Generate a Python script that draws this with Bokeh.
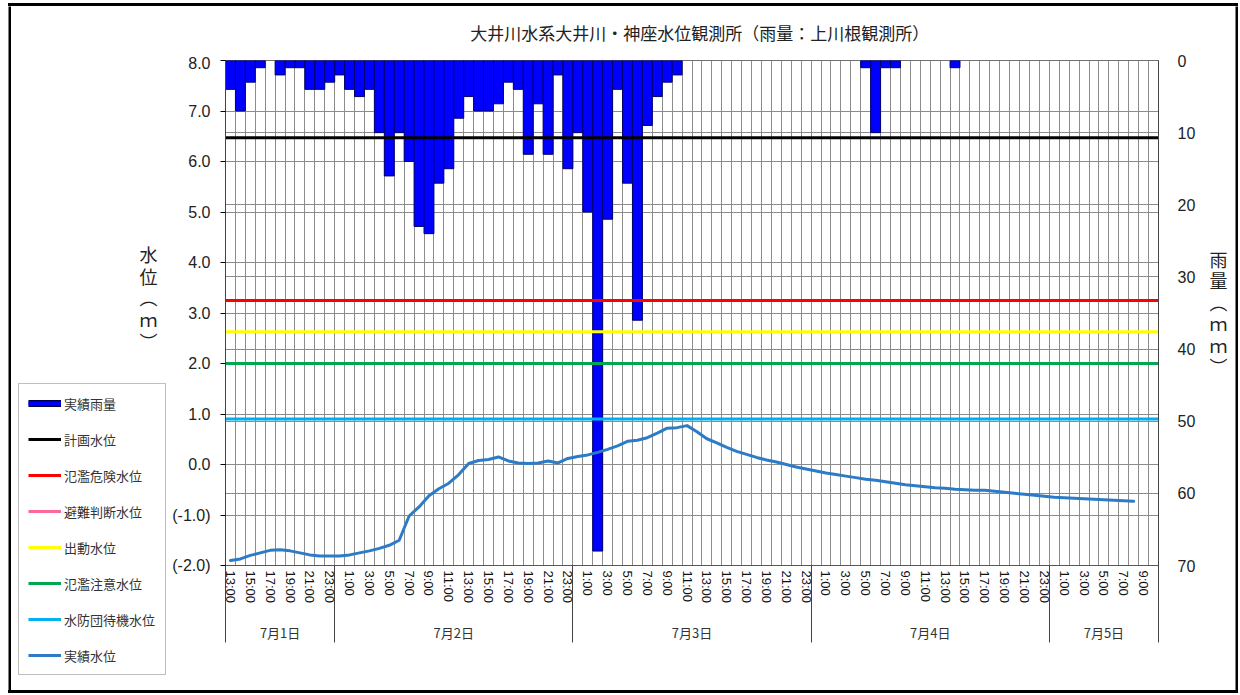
from bokeh.plotting import figure
from bokeh.layouts import row, column
from bokeh.models import (Range1d, LinearAxis, FixedTicker, Grid, Legend, LegendItem,
                          ColumnDataSource, Label, PrintfTickFormatter, Spacer)
from bokeh.embed import file_html
from bokeh.resources import INLINE

# ---------------- data ----------------
TITLE = "大井川水系大井川・神座水位観測所（雨量：上川根観測所）"
Y_LEFT_LABEL = "水位（m）"
Y_RIGHT_LABEL = "雨量（mm）"

day_labels = ["7月1日", "7月2日", "7月3日", "7月4日", "7月5日"]
day_hours = [list(range(13, 24)), list(range(0, 24)), list(range(0, 24)),
             list(range(0, 24)), list(range(0, 11))]

# hourly rainfall (mm), from 7/1 13:00
rain_mm = [4, 7, 3, 1, 0, 2, 1, 1, 4, 4, 3,                                   # 7/1
           2, 4, 5, 4, 10, 16, 10, 14, 23, 24, 17, 15, 8, 5, 7, 7, 6, 3, 4, 13, 6, 13, 2, 15,  # 7/2
           10, 21, 68, 22, 4, 17, 36, 9, 5, 3, 2, 0, 0, 0, 0, 0, 0, 0, 0, 0, 0, 0, 0, 0,      # 7/3
           0, 0, 0, 0, 0, 1, 10, 1, 1, 0, 0, 0, 0, 0, 1, 0, 0, 0, 0, 0, 0, 0, 0, 0,          # 7/4
           0, 0, 0, 0, 0, 0, 0, 0, 0, 0, 0]                                    # 7/5

# hourly observed water level (m), from 7/1 13:00
water_level_m = [-1.90, -1.87, -1.80, -1.75, -1.70, -1.69, -1.71, -1.75, -1.79, -1.81, -1.81,
                 -1.81, -1.79, -1.75, -1.71, -1.66, -1.60, -1.50, -1.02, -0.84, -0.62, -0.48, -0.37,
                 -0.20, 0.02, 0.08, 0.10, 0.15, 0.07, 0.03, 0.02, 0.03, 0.07, 0.03, 0.12,
                 0.16, 0.19, 0.24, 0.30, 0.37, 0.46, 0.48, 0.53, 0.62, 0.72, 0.73, 0.77,
                 0.65, 0.51, 0.43, 0.34, 0.26, 0.20, 0.14, 0.09, 0.05, 0.00, -0.05, -0.09,
                 -0.13, -0.17, -0.20, -0.23, -0.26, -0.29, -0.31, -0.34, -0.37, -0.40, -0.42, -0.44,
                 -0.46, -0.47, -0.49, -0.50, -0.51, -0.51, -0.53, -0.55, -0.57, -0.59, -0.61, -0.63,
                 -0.65, -0.66, -0.67, -0.68, -0.69, -0.70, -0.71, -0.72, -0.73]

level_names = ["計画水位", "氾濫危険水位", "避難判断水位", "出動水位", "氾濫注意水位", "水防団待機水位"]
level_values = [6.47, 3.25, None, 2.63, 2.00, 0.90]
level_colors = ["#000000", "#FF0000", "#FF6699", "#FFFF00", "#00A650", "#00B0F0"]

rain_name = "実績雨量"
water_name = "実績水位"

left_ticks = [-2, -1, 0, 1, 2, 3, 4, 5, 6, 7, 8]
left_tick_overrides = {-1: "(-1.0)", -2: "(-2.0)"}
right_ticks = [0, 10, 20, 30, 40, 50, 60, 70]

# ---------------- page layout (pixels of the page) ----------------
BORDER = (8, 3, 1238, 693)     # outer border box: left, top, right, bottom
BW = 3                         # border thickness
IN_L, IN_T = BORDER[0] + BW, BORDER[1] + BW          # inner area origin
IN_R, IN_B = BORDER[2] - BW, BORDER[3] - BW          # inner area end
LEFT_X = 166                   # end of legend / left-title column
RIGHT_X = 1200                 # start of right-title column
TOP_Y = 54                     # end of title strip
FRAME_L, FRAME_R, FRAME_T, FRAME_B = 225, 1158, 60, 565
SEP_BOTTOM = 642               # lower end of the day separators

JP = "Noto Sans CJK JP"
NUM = "Liberation Sans"
GRID = "#8C8C8C"
WATER_COLOR = "#2C7BC6"
BAR_FILL = "#0000FF"
BAR_LINE = "#00006B"
TEXT = "#222222"


def vertical(text):
    table = {"（": "︵", "）": "︶", "m": "ｍ"}
    return "\n".join(table.get(c, c) for c in text)


def plain_fig(x0, x1, y0, y1, fill="white"):
    f = figure(width=x1 - x0, height=y1 - y0, output_backend="svg", toolbar_location=None,
               x_range=Range1d(x0, x1), y_range=Range1d(y1, y0), title=None,
               x_axis_location=None, y_axis_location=None, min_border=0)
    f.grid.visible = False
    f.outline_line_color = None
    f.background_fill_color = fill
    f.border_fill_color = fill
    return f


# ---------------- main chart ----------------
hour_labels = [f"{h}:00" for hrs in day_hours for h in hrs]
n = len(hour_labels)
idx = list(range(n))
x_lo, x_hi = -0.5, n - 0.5

p = figure(width=RIGHT_X - LEFT_X, height=IN_B - TOP_Y, output_backend="svg",
           toolbar_location=None, title=None,
           x_range=Range1d(x_lo, x_hi), y_range=Range1d(left_ticks[0], left_ticks[-1]),
           min_border_left=FRAME_L - LEFT_X, min_border_right=RIGHT_X - FRAME_R,
           min_border_top=FRAME_T - TOP_Y, min_border_bottom=IN_B - FRAME_B)
p.extra_y_ranges = {"rain": Range1d(start=right_ticks[-1], end=right_ticks[0])}
p.background_fill_color = "white"
p.border_fill_color = "white"
p.outline_line_color = "#707070"

# day boundaries
bounds = [0]
for hrs in day_hours:
    bounds.append(bounds[-1] + len(hrs))

# x axis: hour labels; long minor ticks act as the day separators
sep_len = SEP_BOTTOM - FRAME_B
xa = p.below[0]
odd = [i for i, lab in enumerate(hour_labels) if int(lab.split(":")[0]) % 2 == 1]
xa.ticker = FixedTicker(ticks=odd, minor_ticks=[x_lo + b for b in bounds])
xa.major_label_overrides = {i: hour_labels[i] for i in odd}
xa.major_label_orientation = "vertical"
xa.major_tick_out = 0
xa.major_tick_in = 0
xa.minor_tick_out = sep_len
xa.minor_tick_in = 0
xa.minor_tick_line_color = "#444444"
xa.major_label_standoff = 5 - sep_len
xa.major_label_text_font = NUM
xa.major_label_text_font_size = "13px"
xa.major_label_text_color = "#111111"
xa.axis_line_color = "#555555"

# second x axis: day labels
day_centers = [x_lo + (bounds[k] + bounds[k + 1]) / 2 for k in range(len(day_labels))]
da = LinearAxis(ticker=FixedTicker(ticks=day_centers),
                major_label_overrides={c: lab for c, lab in zip(day_centers, day_labels)})
da.major_tick_out = 0
da.major_tick_in = 0
da.minor_tick_out = 0
da.minor_tick_in = 0
da.axis_line_color = None
da.major_label_standoff = 16
da.major_label_text_font = JP
da.major_label_text_font_size = "13px"
da.major_label_text_color = "#333333"
p.add_layout(da, "below")

# left axis (water level)
ya = p.left[0]
ya.ticker = FixedTicker(ticks=left_ticks)
ya.formatter = PrintfTickFormatter(format="%.1f")
ya.major_label_overrides = left_tick_overrides
ya.major_tick_out = 5
ya.major_tick_in = 0
ya.minor_tick_out = 0
ya.minor_tick_in = 0
ya.major_label_standoff = 10
ya.major_label_text_font = NUM
ya.major_label_text_font_size = "16px"
ya.major_label_text_color = TEXT
ya.axis_line_color = "#444444"

# right axis (rain)
ra = LinearAxis(y_range_name="rain", ticker=FixedTicker(ticks=right_ticks))
ra.major_tick_out = 0
ra.major_tick_in = 0
ra.minor_tick_out = 0
ra.minor_tick_in = 0
ra.major_label_standoff = 19
ra.major_label_text_font = NUM
ra.major_label_text_font_size = "16px"
ra.major_label_text_color = TEXT
ra.axis_line_color = "#444444"
p.add_layout(ra, "right")

# grids
p.xgrid.ticker = FixedTicker(ticks=[x_lo + k for k in range(n + 1)])
p.xgrid.grid_line_color = GRID
p.ygrid.ticker = FixedTicker(ticks=left_ticks)
p.ygrid.grid_line_color = GRID
p.add_layout(Grid(dimension=1, y_range_name="rain", ticker=FixedTicker(ticks=right_ticks),
                  grid_line_color=GRID))

# rain bars hanging from the top
rain_src = ColumnDataSource(dict(x=[i for i in idx if rain_mm[i] > 0],
                                 top=[rain_mm[i] for i in idx if rain_mm[i] > 0]))
p.vbar(x="x", top="top", bottom=0, width=1.0, source=rain_src, y_range_name="rain",
       fill_color=BAR_FILL, line_color=BAR_LINE, line_width=1)

# threshold levels
for v, c in zip(level_values, level_colors):
    if v is not None:
        p.line(x=[x_lo, x_hi], y=[v, v], line_color=c, line_width=3)

# observed water level
p.line(x=idx[:len(water_level_m)], y=water_level_m, line_color=WATER_COLOR,
       line_width=3, line_join="round", line_cap="round")

# ---------------- title strip ----------------
top = plain_fig(LEFT_X, RIGHT_X, IN_T, TOP_Y)
top.add_layout(Label(x=(FRAME_L + FRAME_R) / 2, y=32, text=TITLE, text_align="center",
                     text_baseline="middle", text_font=JP, text_font_size="17px",
                     text_color=TEXT))

# ---------------- left column: legend + left title ----------------
left = plain_fig(IN_L, LEFT_X, IN_T, IN_B)
left.add_layout(Label(x=148, y=297, text=vertical(Y_LEFT_LABEL), text_align="center",
                      text_baseline="middle", text_font=JP, text_font_size="18px",
                      text_color=TEXT, text_line_height=0.83))

# legend proxies: drawn outside the visible area of the left column
px, py = [-20, -10], [-20, -20]
lg_rain_a = left.line(x=px, y=py, line_color="#00004A", line_width=7)
lg_rain_b = left.line(x=px, y=py, line_color=BAR_FILL, line_width=4)
items = [LegendItem(label=rain_name, renderers=[lg_rain_a, lg_rain_b])]
for nm, c in zip(level_names, level_colors):
    items.append(LegendItem(label=nm, renderers=[left.line(x=px, y=py, line_color=c,
                                                           line_width=3)]))
items.append(LegendItem(label=water_name,
                        renderers=[left.line(x=px, y=py, line_color=WATER_COLOR,
                                             line_width=3)]))
legend = Legend(items=items, location=(18 - IN_L, IN_B - 675), margin=0,
                padding=9, spacing=16, label_height=20, glyph_height=20, glyph_width=33,
                label_standoff=3, label_width=92,
                label_text_font=JP, label_text_font_size="13px", label_text_color="#333333",
                border_line_color="#808080", border_line_width=1,
                background_fill_color="white", background_fill_alpha=1.0)
left.add_layout(legend)

# ---------------- right column: right title ----------------
right = plain_fig(RIGHT_X, IN_R, IN_T, IN_B)
right.add_layout(Label(x=1218, y=312, text=vertical(Y_RIGHT_LABEL), text_align="center",
                       text_baseline="middle", text_font=JP, text_font_size="18px",
                       text_color=TEXT, text_line_height=0.83))

# ---------------- outer black border ----------------
bl, bt, br, bb = BORDER
b_left = plain_fig(bl, bl + BW, IN_T, IN_B, fill="black")
b_right = plain_fig(br - BW, br, IN_T, IN_B, fill="black")
b_top = Spacer(width=br - bl, height=BW, styles={"background-color": "black"})
b_bot = Spacer(width=br - bl, height=BW, styles={"background-color": "black"})

inner = row(b_left, left, column(top, p), right, b_right)
framed = column(Spacer(width=br - bl, height=bt), b_top, inner, b_bot)
layout = row(Spacer(width=bl, height=10), framed)
open("out.html", "w").write(file_html(layout, INLINE))
